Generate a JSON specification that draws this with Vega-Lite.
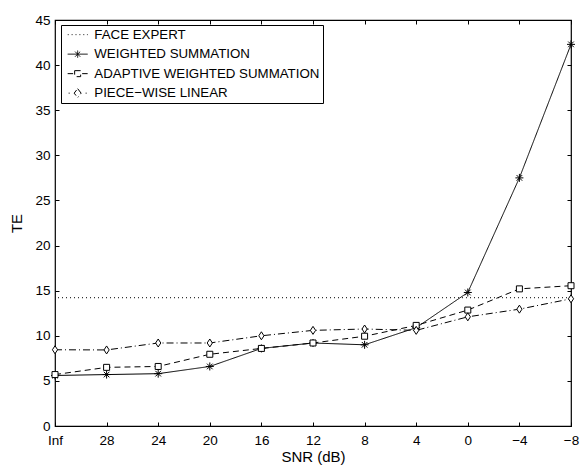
{
  "$schema": "https://vega.github.io/schema/vega-lite/v6.json",
  "autosize": "none",
  "width": 516,
  "height": 406,
  "padding": {"left": 55, "top": 20, "right": 9, "bottom": 42},
  "background": "white",
  "config": {
    "font": "Liberation Sans",
    "view": {"stroke": "black", "strokeWidth": 1.2},
    "axis": {
      "grid": false,
      "domain": false,
      "labelColor": "black",
      "labelFont": "Liberation Sans",
      "labelFontSize": 13.5,
      "titleFont": "Liberation Sans",
      "titleFontSize": 15,
      "titleFontWeight": "normal",
      "titleColor": "black"
    }
  },
  "datasets": {
    "face": [{"series": "FACE EXPERT", "te": 14.22}],
    "curves": [
      {"snr": "Inf", "series": "WEIGHTED SUMMATION", "te": 5.6},
      {"snr": "28", "series": "WEIGHTED SUMMATION", "te": 5.7},
      {"snr": "24", "series": "WEIGHTED SUMMATION", "te": 5.8},
      {"snr": "20", "series": "WEIGHTED SUMMATION", "te": 6.6},
      {"snr": "16", "series": "WEIGHTED SUMMATION", "te": 8.6},
      {"snr": "12", "series": "WEIGHTED SUMMATION", "te": 9.2},
      {"snr": "8", "series": "WEIGHTED SUMMATION", "te": 9.0},
      {"snr": "4", "series": "WEIGHTED SUMMATION", "te": 10.9},
      {"snr": "0", "series": "WEIGHTED SUMMATION", "te": 14.8},
      {"snr": "−4", "series": "WEIGHTED SUMMATION", "te": 27.5},
      {"snr": "−8", "series": "WEIGHTED SUMMATION", "te": 42.3},
      {"snr": "Inf", "series": "ADAPTIVE WEIGHTED SUMMATION", "te": 5.7},
      {"snr": "28", "series": "ADAPTIVE WEIGHTED SUMMATION", "te": 6.5},
      {"snr": "24", "series": "ADAPTIVE WEIGHTED SUMMATION", "te": 6.6},
      {"snr": "20", "series": "ADAPTIVE WEIGHTED SUMMATION", "te": 7.95},
      {"snr": "16", "series": "ADAPTIVE WEIGHTED SUMMATION", "te": 8.6},
      {"snr": "12", "series": "ADAPTIVE WEIGHTED SUMMATION", "te": 9.2},
      {"snr": "8", "series": "ADAPTIVE WEIGHTED SUMMATION", "te": 9.95},
      {"snr": "4", "series": "ADAPTIVE WEIGHTED SUMMATION", "te": 11.15},
      {"snr": "0", "series": "ADAPTIVE WEIGHTED SUMMATION", "te": 12.85},
      {"snr": "−4", "series": "ADAPTIVE WEIGHTED SUMMATION", "te": 15.2},
      {"snr": "−8", "series": "ADAPTIVE WEIGHTED SUMMATION", "te": 15.55},
      {"snr": "Inf", "series": "PIECE−WISE LINEAR", "te": 8.45},
      {"snr": "28", "series": "PIECE−WISE LINEAR", "te": 8.43},
      {"snr": "24", "series": "PIECE−WISE LINEAR", "te": 9.2},
      {"snr": "20", "series": "PIECE−WISE LINEAR", "te": 9.2},
      {"snr": "16", "series": "PIECE−WISE LINEAR", "te": 10.0},
      {"snr": "12", "series": "PIECE−WISE LINEAR", "te": 10.6},
      {"snr": "8", "series": "PIECE−WISE LINEAR", "te": 10.75},
      {"snr": "4", "series": "PIECE−WISE LINEAR", "te": 10.6},
      {"snr": "0", "series": "PIECE−WISE LINEAR", "te": 12.1},
      {"snr": "−4", "series": "PIECE−WISE LINEAR", "te": 12.95},
      {"snr": "−8", "series": "PIECE−WISE LINEAR", "te": 14.1}
    ]
  },
  "resolve": {"axis": {"x": "independent", "y": "independent"}},
  "layer": [
    {
      "data": {"name": "face"},
      "mark": {"type": "rule", "strokeWidth": 1},
      "encoding": {
        "y": {"field": "te", "type": "quantitative", "scale": {"domain": [0, 45], "nice": false, "zero": false}, "axis": null},
        "color": {"field": "series", "type": "nominal"},
        "strokeDash": {"field": "series", "type": "nominal", "legend": null}
      }
    },
    {
      "data": {"name": "curves"},
      "mark": {"type": "line", "strokeWidth": 1},
      "encoding": {
        "x": {
          "field": "snr", "type": "ordinal",
          "sort": ["Inf", "28", "24", "20", "16", "12", "8", "4", "0", "−4", "−8"],
          "scale": {"type": "point", "padding": 0},
          "axis": {"orient": "bottom", "title": "SNR (dB)", "labelAngle": 0, "labelPadding": 7, "titlePadding": 3, "ticks": true, "tickSize": 4, "tickWidth": 1, "offset": -4, "tickColor": "black", "zindex": 1}
        },
        "y": {
          "field": "te", "type": "quantitative",
          "scale": {"domain": [0, 45], "nice": false, "zero": false},
          "axis": {"orient": "left", "title": "TE", "values": [0, 5, 10, 15, 20, 25, 30, 35, 40, 45], "labelPadding": 5, "titlePadding": 10, "ticks": true, "tickSize": 4, "tickWidth": 1, "offset": -4, "tickColor": "black", "zindex": 1}
        },
        "color": {
          "field": "series", "type": "nominal",
          "scale": {
            "domain": ["FACE EXPERT", "WEIGHTED SUMMATION", "ADAPTIVE WEIGHTED SUMMATION", "PIECE−WISE LINEAR"],
            "range": ["black", "black", "black", "black"]
          },
          "legend": {
            "title": null,
            "orient": "none",
            "legendX": 6,
            "legendY": 5,
            "fillColor": "white",
            "strokeColor": "black",
            "padding": 3,
            "labelFont": "Liberation Sans",
            "labelFontSize": 13.3,
            "labelLimit": 0,
            "labelColor": "black",
            "labelOffset": 10,
            "symbolOffset": 7,
            "rowPadding": 5.5,
            "symbolSize": 144,
            "symbolStrokeWidth": 1,
            "symbolStrokeColor": "black",
            "encode": {
              "symbols": {
                "update": {
                  "shape": {"signal": "datum.value === 'FACE EXPERT' ? 'M-1.65,0h0.15M-1,0h0.15M-0.35,0h0.15M0.3,0h0.15M0.95,0h0.15M1.55,0h0.12' : datum.value === 'WEIGHTED SUMMATION' ? 'M-1.667,0H1.667M0,-0.6V0.6M-0.42,-0.42L0.42,0.42M-0.42,0.42L0.42,-0.42' : datum.value === 'ADAPTIVE WEIGHTED SUMMATION' ? 'M-1.667,0H-0.75M0.75,0H1.667M-0.5,-0.5H0.5V0.5H-0.5Z' : 'M-1.5,0H-1.33M1.33,0H1.5M0,-0.75L0.58,0L0,0.75L-0.58,0Z'"},
                  "fill": {"value": "transparent"},
                  "stroke": {"value": "black"},
                  "strokeDash": {"value": [1, 0]}
                }
              }
            }
          }
        },
        "strokeDash": {
          "field": "series", "type": "nominal",
          "scale": {
            "domain": ["FACE EXPERT", "WEIGHTED SUMMATION", "ADAPTIVE WEIGHTED SUMMATION", "PIECE−WISE LINEAR"],
            "range": [[1, 3], [1, 0], [6, 4], [7, 3, 1, 3]]
          },
          "legend": null
        }
      }
    },
    {
      "data": {"name": "curves"},
      "mark": {"type": "point", "fill": "white", "stroke": "black", "strokeWidth": 1, "opacity": 1, "size": 64},
      "encoding": {
        "x": {
          "field": "snr", "type": "ordinal",
          "sort": ["Inf", "28", "24", "20", "16", "12", "8", "4", "0", "−4", "−8"],
          "scale": {"type": "point", "padding": 0},
          "axis": {"orient": "top", "title": null, "labels": false, "ticks": true, "tickSize": 4, "tickWidth": 1, "offset": -4, "tickColor": "black", "zindex": 1}
        },
        "y": {
          "field": "te", "type": "quantitative",
          "scale": {"domain": [0, 45], "nice": false, "zero": false},
          "axis": {"orient": "right", "title": null, "labels": false, "values": [0, 5, 10, 15, 20, 25, 30, 35, 40, 45], "ticks": true, "tickSize": 4, "tickWidth": 1, "offset": -4, "tickColor": "black", "zindex": 1}
        },
        "shape": {
          "field": "series", "type": "nominal",
          "scale": {
            "domain": ["WEIGHTED SUMMATION", "ADAPTIVE WEIGHTED SUMMATION", "PIECE−WISE LINEAR"],
            "range": ["M-1,0H1M0,-1V1M-0.7,-0.7L0.7,0.7M-0.7,0.7L0.7,-0.7", "M-0.75,-0.75H0.75V0.75H-0.75Z", "M0,-1L0.65,0L0,1L-0.65,0Z"]
          },
          "legend": null
        }
      }
    }
  ]
}
